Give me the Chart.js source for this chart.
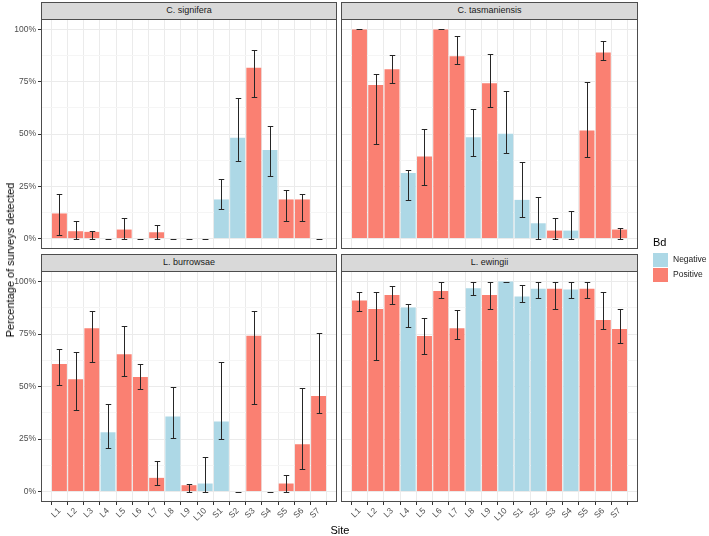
<!DOCTYPE html>
<html>
<head>
<meta charset="utf-8">
<script src="https://cdn.jsdelivr.net/npm/chart.js@4.4.0/dist/chart.umd.min.js"></script>
<style>
  body { margin: 0; background: #fff; }
  #wrap { position: relative; width: 709px; height: 536px; overflow: hidden; font-family: "Liberation Sans", Arial, sans-serif; }
  #wrap canvas { position: absolute; left: 0; top: 0; }
  .strip { position: absolute; box-sizing: border-box; background: #D9D9D9; border: 1px solid #4D4D4D;
           font-size: 9px; color: #1A1A1A; text-align: center; line-height: 15px; }
  .lbl { position: absolute; color: #000; white-space: nowrap; }
</style>
</head>
<body>
<div id="wrap"></div>
<script>
// sites on the x axis
const sites = ['L1','L2','L3','L4','L5','L6','L7','L8','L9','L10','S1','S2','S3','S4','S5','S6','S7'];
// Bd status of each site
const bd = ['Positive','Positive','Positive','Negative','Positive','Positive','Positive','Negative','Positive','Negative',
            'Negative','Negative','Positive','Negative','Positive','Positive','Positive'];
const yTicks = [0, 12.5, 25, 37.5, 50, 62.5, 75, 87.5, 100];

// C. signifera
const signiferaVal = [12, 3.5, 3.2, 0, 4.3, 0, 3, 0, 0, 0, 18.7, 48.2, 81.7, 42.4, 18.7, 18.7, 0];
const signiferaLo  = [1.6, 0, 0, 0, 0, 0, 0, 0, 0, 0, 14.2, 37.3, 67.9, 29.8, 8.3, 8.6, 0];
const signiferaHi  = [21.5, 8.3, 3.5, 0, 9.9, 0, 6.4, 0, 0, 0, 28.7, 67.3, 90.1, 53.7, 23.4, 21.4, 0];

// C. tasmaniensis
const tasmaniensisVal = [100, 73.4, 81, 31.3, 39.2, 100, 87.2, 48.5, 74.3, 50.1, 18.5, 7.3, 3.8, 3.8, 51.7, 89, 4.3];
const tasmaniensisLo  = [100, 45, 74.3, 18.5, 25.5, 100, 83.3, 39.7, 62.7, 40.7, 10.2, 0, 0, 0, 39.2, 85.5, 0];
const tasmaniensisHi  = [100, 78.9, 88, 32.7, 52.5, 100, 97.1, 62, 88.5, 70.8, 36.4, 19.8, 9.9, 13.2, 75, 94.4, 4.9];

// L. burrowsae
const burrowsaeVal = [60.7, 53.5, 77.7, 28.2, 65.4, 54.5, 6.5, 35.7, 3, 3.8, 33.3, 0, 74.2, 0, 3.8, 22.5, 45.5];
const burrowsaeLo  = [50.6, 39, 61.6, 20.7, 54.9, 49, 3.2, 25.6, 0, 0, 24.8, 0, 41.7, 0, 0, 10.8, 37.6];
const burrowsaeHi  = [67.7, 66.4, 86.1, 41.9, 78.8, 60.8, 14.6, 49.7, 3.7, 16.6, 61.8, 0, 86.1, 0, 8, 49.2, 75.3];

// L. ewingii
const ewingiiVal = [90.9, 86.9, 93.6, 87.6, 74, 95.5, 77.7, 96.8, 93.6, 100, 92.8, 96.5, 96.5, 96.2, 96.5, 81.7, 77.4];
const ewingiiLo  = [86.1, 62.7, 89.2, 78.2, 65.3, 92, 72.6, 93.6, 86.8, 100, 90.1, 92, 86.8, 92, 92, 77.2, 70.7];
const ewingiiHi  = [95.2, 95.2, 97.8, 89.2, 82.8, 100, 86.5, 100, 100, 100, 98.1, 100, 100, 100, 100, 94.9, 87.1];

const bdColors = { Negative: '#ADD8E6', Positive: '#FA8072' };
const W = 709, H = 536;
const wrap = document.getElementById('wrap');

// error bars + panel border
const facetPlugin = {
    id: 'facet',
    afterDatasetsDraw(chart, args, opts) {
        const { ctx, scales: { x, y } } = chart;
        const unit = x.getPixelForValue(2) - x.getPixelForValue(1);
        const half = unit * 0.17;
        ctx.save();
        ctx.strokeStyle = '#262626';
        ctx.lineWidth = 1;
        for (let i = 0; i < opts.lo.length; i++) {
            const px = Math.round(x.getPixelForValue(i + 1)) + 0.5;
            const yl = Math.round(y.getPixelForValue(opts.lo[i])) + 0.5;
            const yh = Math.round(y.getPixelForValue(opts.hi[i])) + 0.5;
            ctx.beginPath();
            ctx.moveTo(px, yl); ctx.lineTo(px, yh);
            ctx.moveTo(px - half, yl); ctx.lineTo(px + half, yl);
            ctx.moveTo(px - half, yh); ctx.lineTo(px + half, yh);
            ctx.stroke();
        }
        ctx.restore();
    },
    afterDraw(chart) {
        const { ctx, chartArea: ca } = chart;
        ctx.save();
        ctx.strokeStyle = '#4D4D4D';
        ctx.lineWidth = 1;
        ctx.strokeRect(ca.left + 0.5, ca.top + 0.5, ca.right - ca.left - 1, ca.bottom - ca.top - 1);
        ctx.restore();
    }
};

function makePanel(title, vals, lo, hi, rect, showX, showY) {
    const cv = document.createElement('canvas');
    cv.width = W; cv.height = H;
    wrap.appendChild(cv);

    const strip = document.createElement('div');
    strip.className = 'strip';
    strip.style.left = rect.l + 'px';
    strip.style.top = (rect.t - 17) + 'px';
    strip.style.width = (rect.r - rect.l) + 'px';
    strip.style.height = '18px';
    strip.textContent = title;
    wrap.appendChild(strip);

    const xH = showX ? 30 : 0;
    new Chart(cv, {
        type: 'bar',
        data: {
            datasets: [{
                data: vals.map((v, i) => ({ x: i + 1, y: v })),
                backgroundColor: bd.map(b => bdColors[b]),
                borderWidth: 0,
                barPercentage: 0.92,
                categoryPercentage: 1
            }]
        },
        options: {
            responsive: false,
            animation: false,
            devicePixelRatio: 1,
            layout: {
                padding: {
                    left: showY ? 0 : rect.l,
                    top: rect.t,
                    right: W - rect.r,
                    bottom: H - rect.b - xH
                }
            },
            plugins: {
                legend: { display: false },
                tooltip: { enabled: false },
                facet: { lo: lo, hi: hi }
            },
            scales: {
                x: {
                    type: 'linear',
                    min: 0.4,
                    max: 17.6,
                    afterBuildTicks: s => { s.ticks = sites.map((_, i) => ({ value: i + 1 })); },
                    afterFit: s => {
                        s.height = xH;
                        s.paddingLeft = 0; s.paddingRight = 0; s.paddingTop = 0; s.paddingBottom = 0;
                    },
                    border: { display: false },
                    grid: { color: '#EBEBEB', lineWidth: 1, drawTicks: showX, tickLength: 3, tickColor: '#333333' },
                    ticks: {
                        display: showX,
                        autoSkip: false,
                        minRotation: 45,
                        maxRotation: 45,
                        padding: 1,
                        color: '#4D4D4D',
                        font: { family: 'Liberation Sans', size: 8.5 },
                        callback: v => sites[v - 1]
                    }
                },
                y: {
                    type: 'linear',
                    min: -5,
                    max: 105,
                    afterBuildTicks: s => { s.ticks = yTicks.map(v => ({ value: v })); },
                    afterFit: s => {
                        s.width = showY ? rect.l : 0;
                        s.paddingLeft = 0; s.paddingRight = 0; s.paddingTop = 0; s.paddingBottom = 0;
                    },
                    border: { display: false },
                    grid: {
                        lineWidth: 1,
                        drawTicks: showY,
                        tickLength: 3,
                        color: c => (c.tick && c.tick.value % 25 === 0) ? '#EBEBEB' : '#F5F5F5',
                        tickColor: c => (c.tick && c.tick.value % 25 === 0) ? '#333333' : 'rgba(0,0,0,0)'
                    },
                    ticks: {
                        display: showY,
                        autoSkip: false,
                        padding: 2,
                        color: '#4D4D4D',
                        font: { family: 'Liberation Sans', size: 8.5 },
                        callback: v => (v % 25 === 0 ? v + '%' : '')
                    }
                }
            }
        },
        plugins: [facetPlugin]
    });
}

makePanel('C. signifera', signiferaVal, signiferaLo, signiferaHi, { l: 41, t: 19, r: 337, b: 249 }, false, true);
makePanel('C. tasmaniensis', tasmaniensisVal, tasmaniensisLo, tasmaniensisHi, { l: 341, t: 19, r: 638, b: 249 }, false, false);
makePanel('L. burrowsae', burrowsaeVal, burrowsaeLo, burrowsaeHi, { l: 41, t: 271, r: 337, b: 502 }, true, true);
makePanel('L. ewingii', ewingiiVal, ewingiiLo, ewingiiHi, { l: 341, t: 271, r: 638, b: 502 }, true, false);

// axis titles and legend
function addLabel(text, css) {
    const d = document.createElement('div');
    d.className = 'lbl';
    d.textContent = text;
    Object.assign(d.style, css);
    wrap.appendChild(d);
    return d;
}
addLabel('Percentage of surveys detected', {
    left: '10px', top: '260px', fontSize: '11px',
    transform: 'translate(-50%, -50%) rotate(-90deg)'
});
addLabel('Site', { left: '340px', top: '530px', fontSize: '11px', transform: 'translate(-50%, -50%)' });
addLabel('Bd', { left: '653px', top: '236px', fontSize: '11px' });
['Negative', 'Positive'].forEach((name, i) => {
    const box = document.createElement('div');
    Object.assign(box.style, {
        position: 'absolute', left: '653px', top: (253 + i * 14.5) + 'px',
        width: '15px', height: '14px', background: bdColors[name]
    });
    wrap.appendChild(box);
    addLabel(name, { left: '673px', top: (254 + i * 14.5) + 'px', fontSize: '8.5px', color: '#1A1A1A' });
});
</script>
</body>
</html>
